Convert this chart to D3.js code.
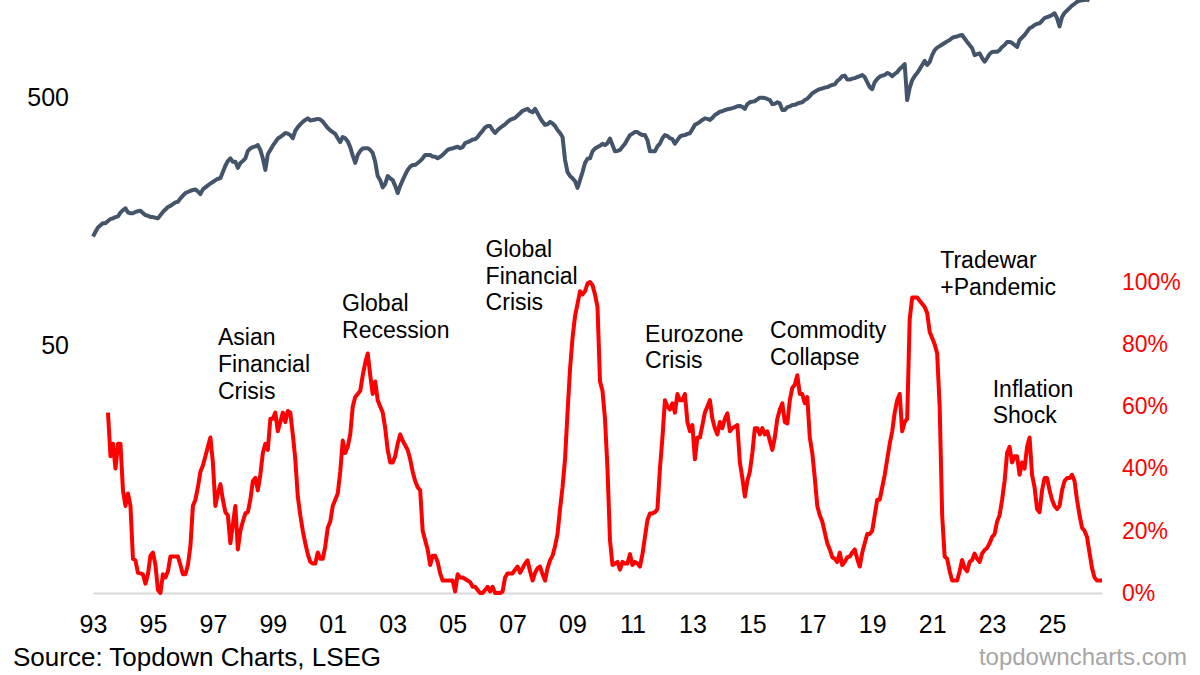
<!DOCTYPE html>
<html>
<head>
<meta charset="utf-8">
<script src="https://cdn.jsdelivr.net/npm/d3@7"></script>
<style>
  body { margin: 0; background: #fff; }
  svg { display: block; font-family: "Liberation Sans", Arial, sans-serif; }
</style>
</head>
<body>
<script>
// x axis labels (years) and axis ticks
var tickYears = [1993, 1995, 1997, 1999, 2001, 2003, 2005, 2007, 2009, 2011, 2013, 2015, 2017, 2019, 2021, 2023, 2025];
var leftTicks = [50, 500];
var rightTicks = [0, 20, 40, 60, 80, 100];

// equity index, monthly from Jan 1993 (log scale, left)
var indexStart = 1993;
var indexLevels = [
  137,143,149,152,155,155,158,161,162,164,165,171,
  175,178,171,170,170,172,173,174,170,167,166,164,
  164,163,162,167,172,176,180,182,185,188,189,195,
  200,205,207,209,211,212,208,203,212,216,220,224,
  227,231,234,235,249,264,276,283,274,274,259,271,
  276,283,303,310,314,316,320,306,283,254,294,306,
  318,329,340,345,351,358,356,351,341,365,378,388,
  397,404,410,402,404,406,408,406,398,386,375,367,
  361,355,341,329,345,341,331,314,290,271,292,303,
  310,311,311,306,297,274,240,231,216,223,240,235,
  231,219,205,219,231,243,254,262,266,266,271,276,
  283,292,292,292,288,287,283,287,292,299,306,309,
  310,313,315,311,314,326,329,332,337,338,345,356,
  365,377,382,382,368,358,368,375,382,388,397,404,
  408,412,421,430,440,444,448,438,434,448,430,412,
  397,386,388,397,391,382,368,358,345,279,249,240,
  235,229,215,231,249,271,282,283,302,310,314,318,
  324,320,326,340,320,302,303,306,315,324,338,351,
  356,361,361,355,351,351,335,302,302,302,316,324,
  341,351,348,341,338,324,335,346,350,351,355,357,
  371,386,391,397,404,410,408,404,412,423,429,436,
  438,443,446,448,451,454,459,460,456,448,468,476,
  479,481,489,497,496,495,491,486,468,470,476,471,
  443,443,455,458,464,465,470,474,476,486,492,504,
  518,525,532,538,541,546,548,554,559,562,580,591,
  607,610,588,588,593,596,602,607,613,602,574,548,
  538,574,591,604,610,613,625,619,607,619,630,648,
  662,679,486,544,585,607,625,648,673,699,673,692,
  738,773,791,802,814,826,838,849,865,873,877,885,
  889,861,834,810,787,738,745,750,718,694,718,745,
  759,761,761,773,795,810,834,834,826,810,795,849,
  869,889,918,946,957,976,986,991,1015,1041,1050,1058,
  1071,1088,1039,963,1050,1092,1116,1141,1168,1188,1210,1222,
  1227,1230,1242,1222
];

// share in %, monthly from Jul 1993 (right axis)
var shareStart = 1993.5;
var sharePct = [
  58,44,48,40,48,48,
  33,28,32,28,11,10.5,6.5,6.3,6,3,6,12,
  13,9,1,0,6,5,7,11.7,11.7,11.7,11.7,9,
  6,6,9,15,28,30,34,39,41,44,47,50,
  42,28,32,35,30,26,25,16,22,28,14,20,
  23,25.6,26,30,36,37,33,38,45,48,46,56,
  56,58,52,55,58,55,58.5,58,51,43,31,25,
  20,16,12.5,10,9.5,9.5,13,11,11,15,21,23,
  28,30,32,39,49,45,47,51,60,63,64,65,
  70,74,77,70,64,68,62,60,58,53,46,42,
  42,44,48,51,49,47.5,46,43,39,36,34,33,
  20,17,14,9,12,12,10,6.3,4,4,4,4,
  4,0.5,6,5,5,4.5,4,3.5,2,2,1,0,
  0,1,2,0.5,2,0,0,0,0.5,5,6.3,6.3,
  6.3,7.5,8.5,6.5,8,9.5,10.5,7,4,6.5,8,8.5,
  6,4,8,10.5,12,15,19,27,34,43,58,72,
  82,89,93,97,96,97,99.5,100,99,96,92,68,
  65,56,40,17,9,9.5,10,7.5,10,9.5,9.5,12.5,
  9,10,9.5,8.5,12.5,18,23.5,25.6,25.6,26,27,40,
  50,62,60,59,61,58,64,62,62,64,55,52,
  54,43,50,50,54,58,60,62,56,53,51,55,
  53,56,57.8,52,53,53.5,54,42,37,31,36,39,
  45,53,53,51,53,51,52,49,46,50,56,59,
  61,55,54.5,62,66,67,70,64,64,61,63,50,
  45,37,28,25,23,19.5,16,14,11.5,11,10,13,
  9,10,11.5,11.7,13,14,11,8.5,13,16,19,19,
  20,25,30,30,34,38,43,48,52,58,62,64,
  52,55,56,88,95,95,95,94,93,92,90,84,
  82,80,77,60,25,11.7,11,7,4,4,4,7,
  10.6,8,7,10,10.6,12.7,11,10,12.7,13.8,14.5,16,
  18,19,23,25,30,36,45,47,42,44,44,38,
  42,40,47,50,38,34,27,26,33,37,37,33,
  30,28,27,28,33,36,37,37,38,36,30,25,
  21,20,18,13,8,5,4,4,4
];

// event labels, anchored at a date and a % level
var eventNames = [
  ["Asian", "Financial", "Crisis"],
  ["Global", "Recession"],
  ["Global", "Financial", "Crisis"],
  ["Eurozone", "Crisis"],
  ["Commodity", "Collapse"],
  ["Tradewar", "+Pandemic"],
  ["Inflation", "Shock"]
];
var eventYears = [1997.17, 2001.31, 2006.1, 2011.42, 2015.59, 2021.27, 2023.02];
var eventLevels = [79.7, 90.7, 108.1, 80.8, 81.9, 104.5, 63.1];

var width = 1200, height = 675;

var svg = d3.select("body")
  .append("svg")
  .attr("width", width)
  .attr("height", height);

var xScale = d3.scaleLinear()
  .domain([1993, 1993 + 404 / 12])
  .range([93, 1102]);

var yIndex = d3.scaleLog()
  .domain([50, 500])
  .range([345, 97]);

var yPct = d3.scaleLinear()
  .domain([0, 100])
  .range([593, 282]);

var indexData = indexLevels.map(function(v, i) { return {t: indexStart + i / 12, v: v}; });
var shareData = sharePct.map(function(v, i) { return {t: shareStart + i / 12, v: v}; });

// bottom axis with grey base line
var xAxis = d3.axisBottom(xScale)
  .tickValues(tickYears)
  .tickFormat(function(d) { return String(d).slice(2); })
  .tickSize(0)
  .tickSizeOuter(0)
  .tickPadding(22);

var gx = svg.append("g")
  .attr("class", "x axis")
  .attr("transform", "translate(0,593)")
  .call(xAxis);
gx.select(".domain").attr("stroke", "#d9d9d9").attr("stroke-width", 2);
gx.selectAll("text").attr("font-size", 25).attr("fill", "#000")
  .attr("font-family", "Liberation Sans, Arial, sans-serif");

var yAxisLeft = d3.axisLeft(yIndex)
  .tickValues(leftTicks)
  .tickFormat(d3.format("d"))
  .tickSize(0)
  .tickPadding(0);

var gl = svg.append("g")
  .attr("class", "y axis")
  .attr("transform", "translate(69,0)")
  .call(yAxisLeft);
gl.select(".domain").remove();
gl.selectAll("text").attr("font-size", 25).attr("fill", "#000")
  .attr("font-family", "Liberation Sans, Arial, sans-serif");

var yAxisRight = d3.axisRight(yPct)
  .tickValues(rightTicks)
  .tickFormat(function(d) { return d + "%"; })
  .tickSize(0)
  .tickPadding(0);

var gr = svg.append("g")
  .attr("class", "y axis right")
  .attr("transform", "translate(1122,0)")
  .call(yAxisRight);
gr.select(".domain").remove();
gr.selectAll("text").attr("font-size", 23).attr("fill", "#ff0000")
  .attr("font-family", "Liberation Sans, Arial, sans-serif");

// lines
var indexLine = d3.line()
  .x(function(d) { return xScale(d.t); })
  .y(function(d) { return yIndex(d.v); });

var shareLine = d3.line()
  .x(function(d) { return xScale(d.t); })
  .y(function(d) { return yPct(d.v); });

svg.append("path")
  .datum(indexData)
  .attr("d", indexLine)
  .attr("fill", "none")
  .attr("stroke", "#44546a")
  .attr("stroke-width", 4)
  .attr("stroke-linejoin", "round");

svg.append("path")
  .datum(shareData)
  .attr("d", shareLine)
  .attr("fill", "none")
  .attr("stroke", "#ff0000")
  .attr("stroke-width", 4)
  .attr("stroke-linejoin", "round");

// event labels
eventNames.forEach(function(lines, i) {
  var t = svg.append("text")
    .attr("x", xScale(eventYears[i]))
    .attr("y", yPct(eventLevels[i]))
    .attr("font-size", 23)
    .attr("fill", "#000");
  lines.forEach(function(s, j) {
    t.append("tspan")
      .attr("x", xScale(eventYears[i]))
      .attr("dy", j === 0 ? 0 : 26.7)
      .text(s);
  });
});

// footer
svg.append("text")
  .attr("x", 13)
  .attr("y", 666)
  .attr("font-size", 26)
  .attr("fill", "#000")
  .text("Source: Topdown Charts, LSEG");

svg.append("text")
  .attr("x", 1187)
  .attr("y", 665)
  .attr("text-anchor", "end")
  .attr("font-size", 24)
  .attr("fill", "#a6a6a6")
  .text("topdowncharts.com");
</script>
</body>
</html>
